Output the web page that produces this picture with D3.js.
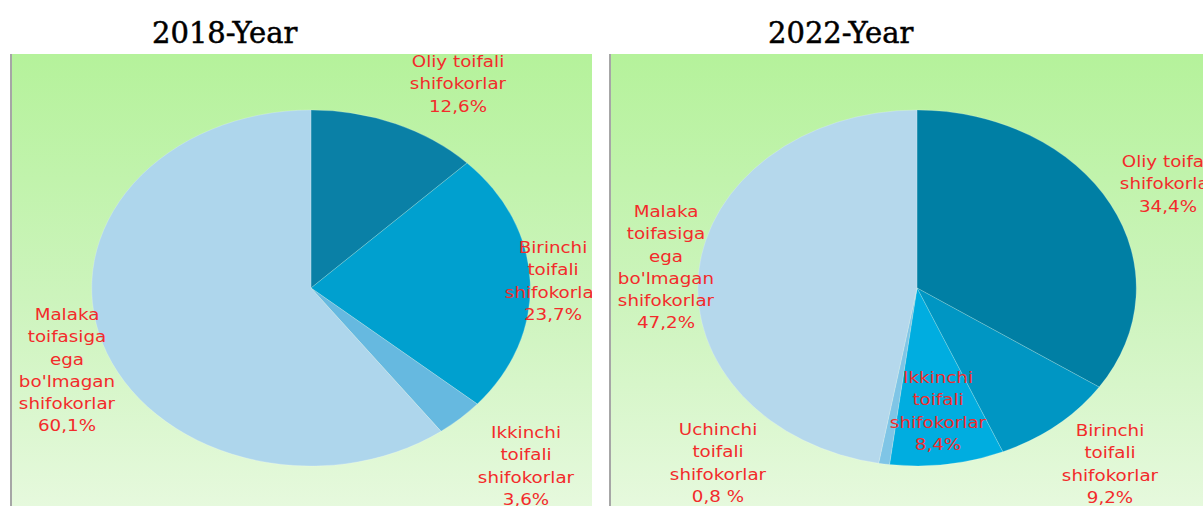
<!DOCTYPE html>
<html><head><meta charset="utf-8">
<script src="https://cdn.jsdelivr.net/npm/d3@7"></script>
<style>html,body{margin:0;padding:0;background:#fff;overflow:hidden}</style>
</head><body>
<script>
// ---- data ----
const years = ["2018-Year", "2022-Year"];
const labels2018 = [["Oliy toifali","shifokorlar"],["Birinchi","toifali","shifokorlar"],["Ikkinchi","toifali","shifokorlar"],["Malaka","toifasiga","ega","bo'lmagan","shifokorlar"]];
const values2018 = [12.6, 23.7, 3.6, 60.1];
const pctText2018 = ["12,6%","23,7%","3,6%","60,1%"];
const labels2022 = [["Oliy toifali","shifokorlar"],["Birinchi","toifali","shifokorlar"],["Ikkinchi","toifali","shifokorlar"],["Uchinchi","toifali","shifokorlar"],["Malaka","toifasiga","ega","bo'lmagan","shifokorlar"]];
const values2022 = [34.4, 9.2, 8.4, 0.8, 47.2];
const pctText2022 = ["34,4%","9,2%","8,4%","0,8 %","47,2%"];

// ---- layout / style ----
const W = 1203, H = 506;
const panels = [
  {x0:12, x1:592, cx:311, cy:288, titleX:152, values:values2018, labels:labels2018, pct:pctText2018,
   colors:["#0a80a6","#00a0cf","#66b9e0","#aed6ec"],
   labelPos:[[458,62],[553,248],[526,433],[67,315]]},
  {x0:611, x1:1203, cx:917, cy:288, titleX:768, values:values2022, labels:labels2022, pct:pctText2022,
   colors:["#007fa4","#0096c3","#00ade0","#7fc5e6","#b5d8ec"],
   labelPos:[[1168,162],[1110,431],[938,378],[718,430],[666,212]]}
];
const R = 178, SX = 1.232, LINE = 22.3, TSX = 1.22;

const svg = d3.select("body").append("svg").attr("width", W).attr("height", H);
const defs = svg.append("defs");
const grad = defs.append("linearGradient").attr("id","bg").attr("x1",0).attr("y1",0).attr("x2",0).attr("y2",1);
grad.append("stop").attr("offset","0%").attr("stop-color","#b5f29b");
grad.append("stop").attr("offset","55%").attr("stop-color","#cdf4bd");
grad.append("stop").attr("offset","100%").attr("stop-color","#e6f9dd");

const pie = d3.pie().sort(null).value(d => d);
const arc = d3.arc().innerRadius(0).outerRadius(R);

panels.forEach((p, pi) => {
  // title
  svg.append("text").attr("x", p.titleX).attr("y", 43)
    .attr("font-family", "'DejaVu Serif', serif").attr("font-size", 29)
    .attr("fill", "#000").attr("stroke", "#000").attr("stroke-width", 0.5).text(years[pi]);
  // gray left border
  svg.append("rect").attr("x", p.x0 - 2).attr("y", 54).attr("width", 2).attr("height", H - 54).attr("fill", "#a6a6a6");
  const cid = "clip" + pi;
  defs.append("clipPath").attr("id", cid).append("rect")
    .attr("x", p.x0).attr("y", 54).attr("width", p.x1 - p.x0).attr("height", H - 54);
  const g = svg.append("g").attr("clip-path", `url(#${cid})`);
  g.append("rect").attr("x", p.x0).attr("y", 54).attr("width", p.x1 - p.x0).attr("height", H - 54).attr("fill", "url(#bg)");
  const pg = g.append("g").attr("transform", `translate(${p.cx},${p.cy}) scale(${SX},1)`);
  pg.selectAll("path").data(pie(p.values)).join("path")
    .attr("d", arc).attr("fill", (d, i) => p.colors[i])
    .attr("stroke", "rgba(255,255,255,0.22)").attr("stroke-width", 0.8);
  // labels
  p.labels.forEach((lines, i) => {
    const all = lines.concat([p.pct[i]]);
    const [lx, ly] = p.labelPos[i];
    const tg = g.append("g").attr("transform", `translate(${lx},${ly + 5}) scale(${TSX},1)`);
    tg.selectAll("text").data(all).join("text")
      .attr("x", 0).attr("y", (d, k) => k * LINE)
      .attr("text-anchor", "middle")
      .attr("font-family", "'DejaVu Sans', Verdana, sans-serif").attr("font-size", 15)
      .attr("fill", "#f32b2b").text(d => d);
  });
});
</script>
</body></html>
